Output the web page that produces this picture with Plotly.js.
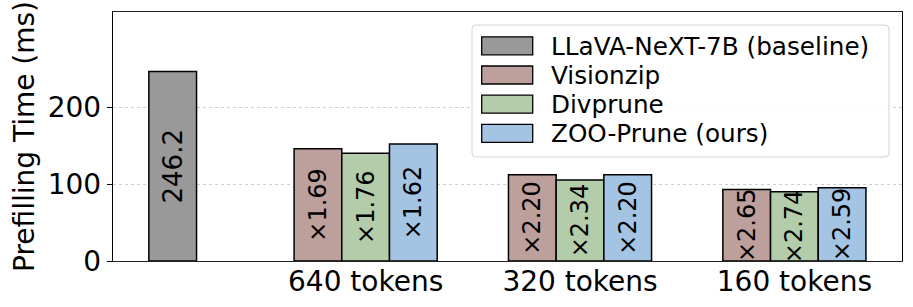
<!DOCTYPE html>
<html>
<head>
<meta charset="utf-8">
<script src="https://cdn.plot.ly/plotly-3.0.1.min.js"></script>
<style>html,body{margin:0;padding:0;background:#fff;}#chart{width:913px;height:307px;}</style>
</head>
<body>
<div id="chart"></div>
<script>
// ---- data ----
const groupLabels = ["640 tokens", "320 tokens", "160 tokens"];
const groupPositions = [1, 2, 3];
const baselineName = "LLaVA-NeXT-7B (baseline)";
const baselineValue = [246.2];
const baselineLabel = ["246.2"];
const seriesNames = ["Visionzip", "Divprune", "ZOO-Prune (ours)"];
const visionzipValues = [145.7, 111.9, 92.9];
const divpruneValues = [139.9, 105.2, 89.9];
const zooValues = [152.0, 111.9, 95.1];
const visionzipLabels = ["×1.69", "×2.20", "×2.65"];
const divpruneLabels = ["×1.76", "×2.34", "×2.74"];
const zooLabels = ["×1.62", "×2.20", "×2.59"];
const yTicks = [0, 100, 200];

// ---- styling ----
const barW = 0.2225;
const baselinePos = 0.1;
const baselineColor = "#999999";
const colors = ["#bd9f9b", "#b3cdaa", "#a4c4e4"];
const FONT = "DejaVu Sans";

function barTrace(name, x, y, text, color, fsize) {
  const tf = {family: FONT, size: fsize, color: "#000"};
  return {
    type: "bar", name: name, x: x, y: y, width: barW,
    text: text, textposition: "inside", insidetextanchor: "middle",
    textangle: -90, constraintext: "none", cliponaxis: false,
    textfont: tf, insidetextfont: tf,
    marker: {color: color, line: {color: "#000", width: 1.5}},
    hoverinfo: "skip", showlegend: false
  };
}

const seriesVals = [visionzipValues, divpruneValues, zooValues];
const seriesLabels = [visionzipLabels, divpruneLabels, zooLabels];
const offsets = [-1, 0, 1];

const traces = [barTrace(baselineName, [baselinePos], baselineValue, baselineLabel, baselineColor, 26)];
for (let i = 0; i < seriesNames.length; i++) {
  traces.push(barTrace(seriesNames[i],
    groupPositions.map(p => p + offsets[i] * barW),
    seriesVals[i], seriesLabels[i], colors[i], 24));
}

// ---- layout geometry (pixels) ----
const W = 913, H = 307;
const M = {l: 113, r: 11, t: 12, b: 46};
const plotW = W - M.l - M.r, plotH = H - M.t - M.b;
const px = x => (x - M.l) / plotW;       // pixel x -> paper
const py = y => (H - M.b - y) / plotH;   // pixel y -> paper

// manual legend (matplotlib style: big patches, rounded light frame)
const legendNames = [baselineName].concat(seriesNames);
const legendColors = [baselineColor].concat(colors);
const shapes = [];
const annotations = [];
(function () {
  const x0 = 472, x1 = 889, y0 = 25, y1 = 157, r = 4;
  const P = (x, y) => px(x) + "," + py(y);
  shapes.push({
    type: "path", xref: "paper", yref: "paper",
    path: "M" + P(x0 + r, y0) + " L" + P(x1 - r, y0) + " Q" + P(x1, y0) + " " + P(x1, y0 + r) +
          " L" + P(x1, y1 - r) + " Q" + P(x1, y1) + " " + P(x1 - r, y1) +
          " L" + P(x0 + r, y1) + " Q" + P(x0, y1) + " " + P(x0, y1 - r) +
          " L" + P(x0, y0 + r) + " Q" + P(x0, y0) + " " + P(x0 + r, y0) + " Z",
    fillcolor: "rgba(255,255,255,0.85)", line: {color: "#d4d4d4", width: 1}
  });
  const rowY0 = 45.8, rowStep = 29.2;
  legendNames.forEach(function (name, i) {
    const cy = rowY0 + i * rowStep;
    shapes.push({
      type: "rect", xref: "paper", yref: "paper",
      x0: px(481.7), x1: px(532.7), y0: py(cy - 9), y1: py(cy + 9),
      fillcolor: legendColors[i], line: {color: "#000", width: 1.3}
    });
    annotations.push({
      xref: "paper", yref: "paper", x: px(549), y: py(cy + 0.5),
      xanchor: "left", yanchor: "middle", showarrow: false,
      text: name, font: {family: FONT, size: 24.7, color: "#000"}
    });
  });
})();

const layout = {
  width: W, height: H,
  margin: {l: M.l, r: M.r, t: M.t, b: M.b, pad: 0},
  paper_bgcolor: "#fff", plot_bgcolor: "#fff",
  font: {family: FONT, color: "#000"},
  barmode: "overlay",
  showlegend: false,
  shapes: shapes,
  annotations: annotations,
  xaxis: {
    range: [-0.1785, 3.502],
    tickmode: "array", tickvals: groupPositions, ticktext: groupLabels,
    tickfont: {family: FONT, size: 28, color: "#000"},
    ticks: "", ticklabelstandoff: -5, showgrid: false, zeroline: false,
    showline: true, linecolor: "#222", linewidth: 1.3, mirror: true
  },
  yaxis: {
    range: [0, 323.5],
    tickmode: "array", tickvals: yTicks,
    tickfont: {family: FONT, size: 28, color: "#000"},
    ticks: "outside", ticklen: 5, tickcolor: "#000", tickwidth: 1,
    showgrid: true, gridcolor: "#cfcfcf", griddash: "dot", gridwidth: 1,
    zeroline: false,
    showline: true, linecolor: "#000", linewidth: 1.3, mirror: true,
    title: {text: "Prefilling Time (ms)", font: {family: FONT, size: 28, color: "#000"}, standoff: 4}
  }
};

Plotly.newPlot("chart", traces, layout, {staticPlot: true});
</script>
</body>
</html>
